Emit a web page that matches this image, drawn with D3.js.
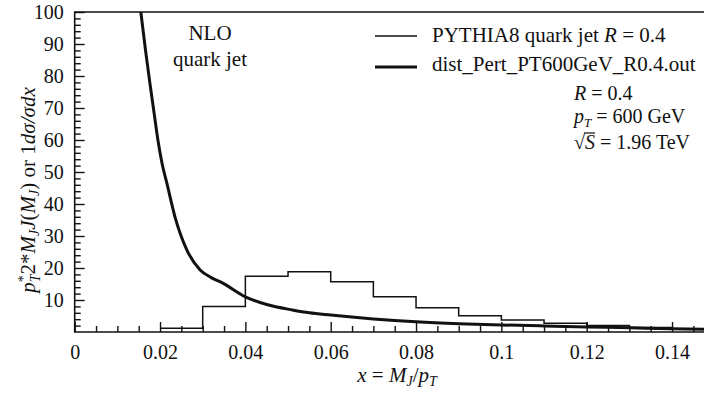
<!DOCTYPE html>
<html>
<head>
<meta charset="utf-8">
<script src="https://cdn.jsdelivr.net/npm/d3@7"></script>
<style>
  body { margin: 0; background: #fff; }
  svg { display: block; font-family: "Liberation Serif", "DejaVu Serif", serif; }
  .tick text { font-size: 20px; fill: #111; font-family: "Liberation Serif", serif; }
  .lab { font-size: 21px; fill: #111; font-family: "Liberation Serif", serif; }
  .info { font-size: 20px; }
</style>
</head>
<body>
<div id="chart"></div>
<script>
// PYTHIA8 histogram: bin left edges and heights (bin width 0.01)
var histEdges = [0.02, 0.03, 0.04, 0.05, 0.06, 0.07, 0.08, 0.09, 0.10, 0.11, 0.12, 0.13, 0.14, 0.15];
var histValues = [1.15, 8.0, 17.4, 18.8, 15.7, 11.0, 7.6, 5.1, 3.75, 2.7, 2.0, 1.4, 1.0];

// perturbative NLO curve
var curveX = [0.0150, 0.0155, 0.0166, 0.0176, 0.0186, 0.0195, 0.0205, 0.0216, 0.0235, 0.0263, 0.0294, 0.0320, 0.0348, 0.0400, 0.0450, 0.0510, 0.0550, 0.0600, 0.0700, 0.0800, 0.0900, 0.1000, 0.1100, 0.1200, 0.1300, 0.1400, 0.1500];
var curveY = [106, 100, 88, 78, 68.5, 60, 52.5, 46.5, 36, 25.6, 19.4, 17.0, 15.2, 11.0, 8.6, 6.9, 6.0, 5.3, 4.1, 3.2, 2.6, 2.2, 1.9, 1.6, 1.3, 1.0, 0.8];

var xTicks = [0, 0.02, 0.04, 0.06, 0.08, 0.1, 0.12, 0.14];
var yTicks = [10, 20, 30, 40, 50, 60, 70, 80, 90, 100];

var width = 704, height = 393;
var margin = { top: 12, left: 74.7, bottom: 61 };
var plotH = height - margin.top - margin.bottom;

var svg = d3.select("#chart").append("svg")
  .attr("width", width).attr("height", height);

var x = d3.scaleLinear().domain([0, 0.15]).range([margin.left, margin.left + 4266.7 * 0.15]);
var y = d3.scaleLinear().domain([0, 100]).range([margin.top + plotH, margin.top]);

svg.append("defs").append("clipPath").attr("id", "clip")
  .append("rect").attr("x", margin.left).attr("y", margin.top)
  .attr("width", width - margin.left).attr("height", plotH);

// minor ticks
var xMinor = d3.range(0, 0.1501, 0.005).filter(function(v) { return xTicks.every(function(t) { return Math.abs(t - v) > 1e-6; }); });
var yMinor = d3.range(2, 100, 2).filter(function(v) { return v % 10 !== 0; });

function styleAxis(g) {
  g.attr("font-family", null).attr("font-size", null);
  g.select(".domain").remove();
  g.selectAll("line").attr("stroke", "#111").attr("stroke-width", 1.4);
}

svg.append("g").attr("transform", "translate(0," + y(0) + ")")
  .call(d3.axisTop(x).tickValues(xMinor).tickSize(6).tickFormat(""))
  .call(styleAxis);

svg.append("g").attr("transform", "translate(" + x(0) + ",0)")
  .call(d3.axisRight(y).tickValues(yMinor).tickSize(6).tickFormat(""))
  .call(styleAxis);

// major ticks with labels
var xAxis = svg.append("g").attr("transform", "translate(0," + y(0) + ")")
  .call(d3.axisTop(x).tickValues(xTicks).tickSize(10).tickFormat(function(d) { return String(+d.toFixed(2)); }))
  .call(styleAxis);
xAxis.selectAll("text").attr("y", 27).attr("dy", 0);

var yAxis = svg.append("g").attr("transform", "translate(" + x(0) + ",0)")
  .call(d3.axisRight(y).tickValues(yTicks).tickSize(10))
  .call(styleAxis);
yAxis.selectAll("text").attr("x", -11).attr("text-anchor", "end").attr("dy", "0.33em");

// frame: left, bottom, top
svg.append("path")
  .attr("d", "M" + width + "," + y(100) + "H" + x(0) + "V" + y(0) + "H" + width)
  .attr("fill", "none").attr("stroke", "#111").attr("stroke-width", 1.6);

// histogram
var histPts = histEdges.map(function(e, i) { return [e, i < histValues.length ? histValues[i] : histValues[histValues.length - 1]]; });
svg.append("path")
  .datum(histPts)
  .attr("clip-path", "url(#clip)")
  .attr("fill", "none").attr("stroke", "#111").attr("stroke-width", 1.5)
  .attr("d", d3.line().x(function(d) { return x(d[0]); }).y(function(d) { return y(d[1]); }).curve(d3.curveStepAfter));

// NLO curve
var curvePts = curveX.map(function(v, i) { return [v, curveY[i]]; });
svg.append("path")
  .datum(curvePts)
  .attr("clip-path", "url(#clip)")
  .attr("fill", "none").attr("stroke", "#111").attr("stroke-width", 3)
  .attr("d", d3.line().x(function(d) { return x(d[0]); }).y(function(d) { return y(d[1]); }).curve(d3.curveMonotoneX));

// annotation
svg.append("text").attr("class", "lab").attr("x", 210).attr("y", 40).attr("text-anchor", "middle").text("NLO");
svg.append("text").attr("class", "lab").attr("x", 210).attr("y", 66).attr("text-anchor", "middle").text("quark jet");

// legend
svg.append("line").attr("x1", 375).attr("x2", 417).attr("y1", 36).attr("y2", 36).attr("stroke", "#111").attr("stroke-width", 1.5);
svg.append("line").attr("x1", 375).attr("x2", 417).attr("y1", 67).attr("y2", 67).attr("stroke", "#111").attr("stroke-width", 3);
var l1 = svg.append("text").attr("class", "lab").attr("x", 432).attr("y", 42);
l1.append("tspan").text("PYTHIA8 quark jet ");
l1.append("tspan").attr("font-style", "italic").text("R");
l1.append("tspan").text(" = 0.4");
svg.append("text").attr("class", "lab").attr("x", 432).attr("y", 71).text("dist_Pert_PT600GeV_R0.4.out");

var t1 = svg.append("text").attr("class", "lab info").attr("x", 574).attr("y", 100);
t1.append("tspan").attr("font-style", "italic").text("R");
t1.append("tspan").text(" = 0.4");
var t2 = svg.append("text").attr("class", "lab info").attr("x", 574).attr("y", 123);
t2.append("tspan").attr("font-style", "italic").text("p");
t2.append("tspan").attr("font-style", "italic").attr("font-size", 13).attr("dy", 4).text("T");
t2.append("tspan").attr("dy", -4).text(" = 600 GeV");
var t3 = svg.append("text").attr("class", "lab info").attr("x", 574).attr("y", 149);
t3.append("tspan").text("\u221A");
t3.append("tspan").attr("font-style", "italic").text("S");
t3.append("tspan").text(" = 1.96 TeV");
// radical bar over S
var rad = t3.node().getExtentOfChar(0), sExt = t3.node().getExtentOfChar(1);
svg.append("line")
  .attr("x1", rad.x + rad.width - 1).attr("x2", sExt.x + sExt.width)
  .attr("y1", 133).attr("y2", 133)
  .attr("stroke", "#111").attr("stroke-width", 1.2);

// x axis title
var xt = svg.append("text").attr("class", "lab").attr("x", 397).attr("y", 382).attr("text-anchor", "middle");
xt.append("tspan").attr("font-style", "italic").text("x");
xt.append("tspan").text(" = ");
xt.append("tspan").attr("font-style", "italic").text("M");
xt.append("tspan").attr("font-style", "italic").attr("font-size", 14).attr("dy", 4).text("J");
xt.append("tspan").attr("dy", -4).text("/");
xt.append("tspan").attr("font-style", "italic").text("p");
xt.append("tspan").attr("font-style", "italic").attr("font-size", 14).attr("dy", 4).text("T");

// y axis title
var yt = svg.append("text").attr("class", "lab").style("font-size", "21px")
  .attr("transform", "translate(35,190) rotate(-90)").attr("text-anchor", "middle");
yt.append("tspan").attr("font-style", "italic").text("p");
yt.append("tspan").attr("font-size", 14).attr("dy", -7).text("*");
yt.append("tspan").attr("font-style", "italic").attr("font-size", 14).attr("dx", -7).attr("dy", 12).text("T");
yt.append("tspan").attr("dy", -5).text("2*");
yt.append("tspan").attr("font-style", "italic").text("M");
yt.append("tspan").attr("font-style", "italic").attr("font-size", 14).attr("dy", 4).text("J");
yt.append("tspan").attr("font-style", "italic").attr("dy", -4).text("J");
yt.append("tspan").text("(");
yt.append("tspan").attr("font-style", "italic").text("M");
yt.append("tspan").attr("font-style", "italic").attr("font-size", 14).attr("dy", 4).text("J");
yt.append("tspan").attr("dy", -4).text(") or 1");
yt.append("tspan").attr("font-style", "italic").text("d\u03C3/\u03C3dx");
</script>
</body>
</html>
